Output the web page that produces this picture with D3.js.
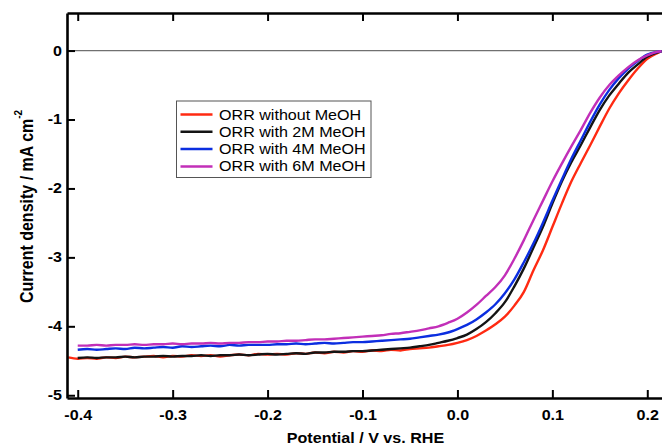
<!DOCTYPE html>
<html lang="en">
<head>
<meta charset="UTF-8">
<title>ORR with MeOH</title>
<script src="https://cdn.jsdelivr.net/npm/d3@7"></script>
<style>
  body { margin: 0; background: #fff; }
  svg text { font-family: "Liberation Sans", Arial, sans-serif; fill: #000; }
</style>
</head>
<body>
<div id="viz"></div>
<script>
// potential (V vs RHE) shared by all curves
var potential = [-0.41,-0.40,-0.39,-0.38,-0.37,-0.36,-0.35,-0.34,-0.33,-0.32,
  -0.31,-0.30,-0.29,-0.28,-0.27,-0.26,-0.25,-0.24,-0.23,-0.22,
  -0.21,-0.20,-0.19,-0.18,-0.17,-0.16,-0.15,-0.14,-0.13,-0.12,
  -0.11,-0.10,-0.09,-0.08,-0.07,-0.06,-0.05,-0.04,-0.03,-0.02,-0.01,
  0.00,0.01,0.02,0.03,0.04,0.05,0.06,0.07,0.08,0.09,0.10,
  0.11,0.12,0.13,0.14,0.15,0.16,0.17,0.18,0.19,0.20,0.21,0.215];

// current density (mA cm-2), null where the curve has no data
var noMeOH = [-4.45,-4.47,-4.46,-4.47,-4.45,-4.46,-4.44,-4.45,-4.44,-4.43,
  -4.45,-4.43,-4.44,-4.42,-4.43,-4.42,-4.44,-4.42,-4.41,-4.42,
  -4.40,-4.41,-4.40,-4.41,-4.39,-4.40,-4.38,-4.39,-4.37,-4.38,
  -4.36,-4.37,-4.35,-4.36,-4.34,-4.35,-4.33,-4.32,-4.31,-4.29,-4.27,
  -4.24,-4.20,-4.14,-4.06,-3.97,-3.86,-3.70,-3.50,-3.19,-2.90,-2.56,
  -2.22,-1.90,-1.63,-1.37,-1.10,-0.84,-0.62,-0.43,-0.26,-0.12,-0.04,-0.01];
var meOH2M = [null,-4.46,-4.45,-4.46,-4.45,-4.45,-4.44,-4.45,-4.44,-4.44,
  -4.43,-4.44,-4.43,-4.43,-4.42,-4.43,-4.42,-4.42,-4.41,-4.42,
  -4.41,-4.40,-4.41,-4.40,-4.39,-4.40,-4.38,-4.38,-4.37,-4.37,
  -4.36,-4.36,-4.35,-4.34,-4.33,-4.32,-4.31,-4.29,-4.27,-4.24,-4.21,
  -4.17,-4.12,-4.04,-3.94,-3.81,-3.65,-3.42,-3.16,-2.86,-2.56,-2.22,
  -1.90,-1.62,-1.37,-1.11,-0.86,-0.65,-0.48,-0.32,-0.20,-0.09,-0.03,-0.01];
var meOH4M = [null,-4.34,-4.33,-4.34,-4.33,-4.32,-4.33,-4.31,-4.32,-4.31,
  -4.30,-4.31,-4.29,-4.30,-4.29,-4.28,-4.29,-4.27,-4.28,-4.27,
  -4.27,-4.27,-4.26,-4.26,-4.25,-4.26,-4.25,-4.24,-4.25,-4.24,
  -4.23,-4.23,-4.22,-4.21,-4.20,-4.19,-4.18,-4.16,-4.14,-4.12,-4.09,
  -4.04,-3.98,-3.90,-3.80,-3.68,-3.52,-3.32,-3.07,-2.80,-2.50,-2.18,
  -1.87,-1.57,-1.30,-1.03,-0.78,-0.57,-0.40,-0.26,-0.15,-0.06,-0.02,-0.01];
var meOH6M = [null,-4.28,-4.28,-4.27,-4.28,-4.27,-4.27,-4.26,-4.27,-4.26,
  -4.26,-4.25,-4.26,-4.25,-4.25,-4.24,-4.25,-4.24,-4.24,-4.23,
  -4.23,-4.22,-4.22,-4.21,-4.21,-4.20,-4.19,-4.19,-4.18,-4.17,
  -4.16,-4.15,-4.14,-4.13,-4.11,-4.10,-4.08,-4.06,-4.03,-4.00,-3.95,
  -3.89,-3.80,-3.69,-3.56,-3.43,-3.26,-3.02,-2.75,-2.46,-2.18,-1.90,
  -1.64,-1.39,-1.15,-0.90,-0.68,-0.50,-0.36,-0.24,-0.14,-0.07,-0.02,-0.01];

var seriesNames = ["ORR without MeOH", "ORR with 2M MeOH", "ORR with 4M MeOH", "ORR with 6M MeOH"];
var seriesValues = [noMeOH, meOH2M, meOH4M, meOH6M];
var seriesColors = ["#ff2a12", "#141414", "#0b2ee0", "#c22fb8"];

var xTicks = [-0.4, -0.3, -0.2, -0.1, 0.0, 0.1, 0.2];
var yTicks = [0, -1, -2, -3, -4, -5];

var width = 662, height = 446;
var plot = { left: 67, right: 662, top: 13, bottom: 398 };
var stretch = 1.15; // the picture's text is a bit wider than the font

var x = d3.scaleLinear().domain([-0.4113, 0.2155]).range([plot.left, plot.right]);
var y = d3.scaleLinear().domain([-5.04, 0.545]).range([plot.bottom, plot.top]);

var svg = d3.select("#viz").append("svg")
  .attr("width", width)
  .attr("height", height);

// zero line
svg.append("line")
  .attr("x1", plot.left).attr("x2", plot.right)
  .attr("y1", y(0)).attr("y2", y(0))
  .attr("stroke", "#707070")
  .attr("stroke-width", 1.2);

// curves
var line = d3.line()
  .defined(function(d) { return d[1] !== null; })
  .x(function(d) { return x(d[0]); })
  .y(function(d) { return y(d[1]); })
  .curve(d3.curveMonotoneX);

svg.append("g").selectAll("path")
  .data(seriesValues)
  .enter().append("path")
  .attr("fill", "none")
  .attr("stroke", function(d, i) { return seriesColors[i]; })
  .attr("stroke-width", 2.4)
  .attr("stroke-linejoin", "round")
  .attr("d", function(vals) {
    return line(potential.map(function(p, k) { return [p, vals[k]]; }));
  });

// axes
function styleAxis(g) {
  g.select(".domain").attr("stroke", "#000").attr("stroke-width", 2.6);
  g.selectAll(".tick line").attr("stroke", "#000").attr("stroke-width", 2);
  g.selectAll(".tick text")
    .attr("font-size", 14)
    .attr("font-weight", "bold")
    .attr("font-family", "'Liberation Sans', Arial, sans-serif");
}

var yAxis = svg.append("g")
  .attr("transform", "translate(" + plot.left + ",0)")
  .call(d3.axisLeft(y).tickValues(yTicks).tickSize(-8).tickSizeOuter(0)
    .tickPadding(5).tickFormat(function(d) { return String(d); }))
  .call(styleAxis);
yAxis.selectAll(".tick text")
  .attr("x", -5 / stretch)
  .attr("transform", "scale(" + stretch + ",1)");

var xAxis = svg.append("g")
  .attr("transform", "translate(0," + plot.bottom + ")")
  .call(d3.axisBottom(x).tickValues(xTicks).tickSize(-8).tickSizeOuter(0)
    .tickPadding(12).tickFormat(function(d) { return d.toFixed(1); }))
  .call(styleAxis);
xAxis.selectAll(".tick text")
  .attr("transform", "scale(" + stretch + ",1)");

svg.append("g")
  .attr("transform", "translate(0," + plot.top + ")")
  .call(d3.axisTop(x).tickValues(xTicks).tickSize(-8).tickSizeOuter(0)
    .tickFormat(""))
  .call(styleAxis);

// axis titles
svg.append("text")
  .attr("transform", "translate(365.5,443) scale(" + stretch + ",1)")
  .attr("text-anchor", "middle")
  .attr("font-size", 14)
  .attr("font-weight", "bold")
  .text("Potential / V vs. RHE");

var yTitle = svg.append("text")
  .attr("transform", "translate(33,303) scale(" + stretch + ",1) rotate(-90)")
  .attr("font-size", 16)
  .attr("font-weight", "bold");
yTitle.append("tspan").text("Current density / mA cm");
yTitle.append("tspan").attr("font-size", 10).attr("dy", -10).text("-2");

// legend
var legend = svg.append("g").attr("transform", "translate(176.5,101)");
legend.append("rect")
  .attr("width", 194.5).attr("height", 76.5)
  .attr("fill", "#fff")
  .attr("stroke", "#555")
  .attr("stroke-width", 1);

var rows = legend.selectAll("g.row")
  .data(seriesNames)
  .enter().append("g")
  .attr("class", "row")
  .attr("transform", function(d, i) { return "translate(0," + (13.5 + i * 17.3) + ")"; });
rows.append("line")
  .attr("x1", 4).attr("x2", 36)
  .attr("stroke", function(d, i) { return seriesColors[i]; })
  .attr("stroke-width", 2.5);
rows.append("text")
  .attr("transform", "translate(42.5,0) scale(" + stretch + ",1)")
  .attr("dy", "0.36em")
  .attr("font-size", 14)
  .text(function(d) { return d; });
</script>
</body>
</html>
